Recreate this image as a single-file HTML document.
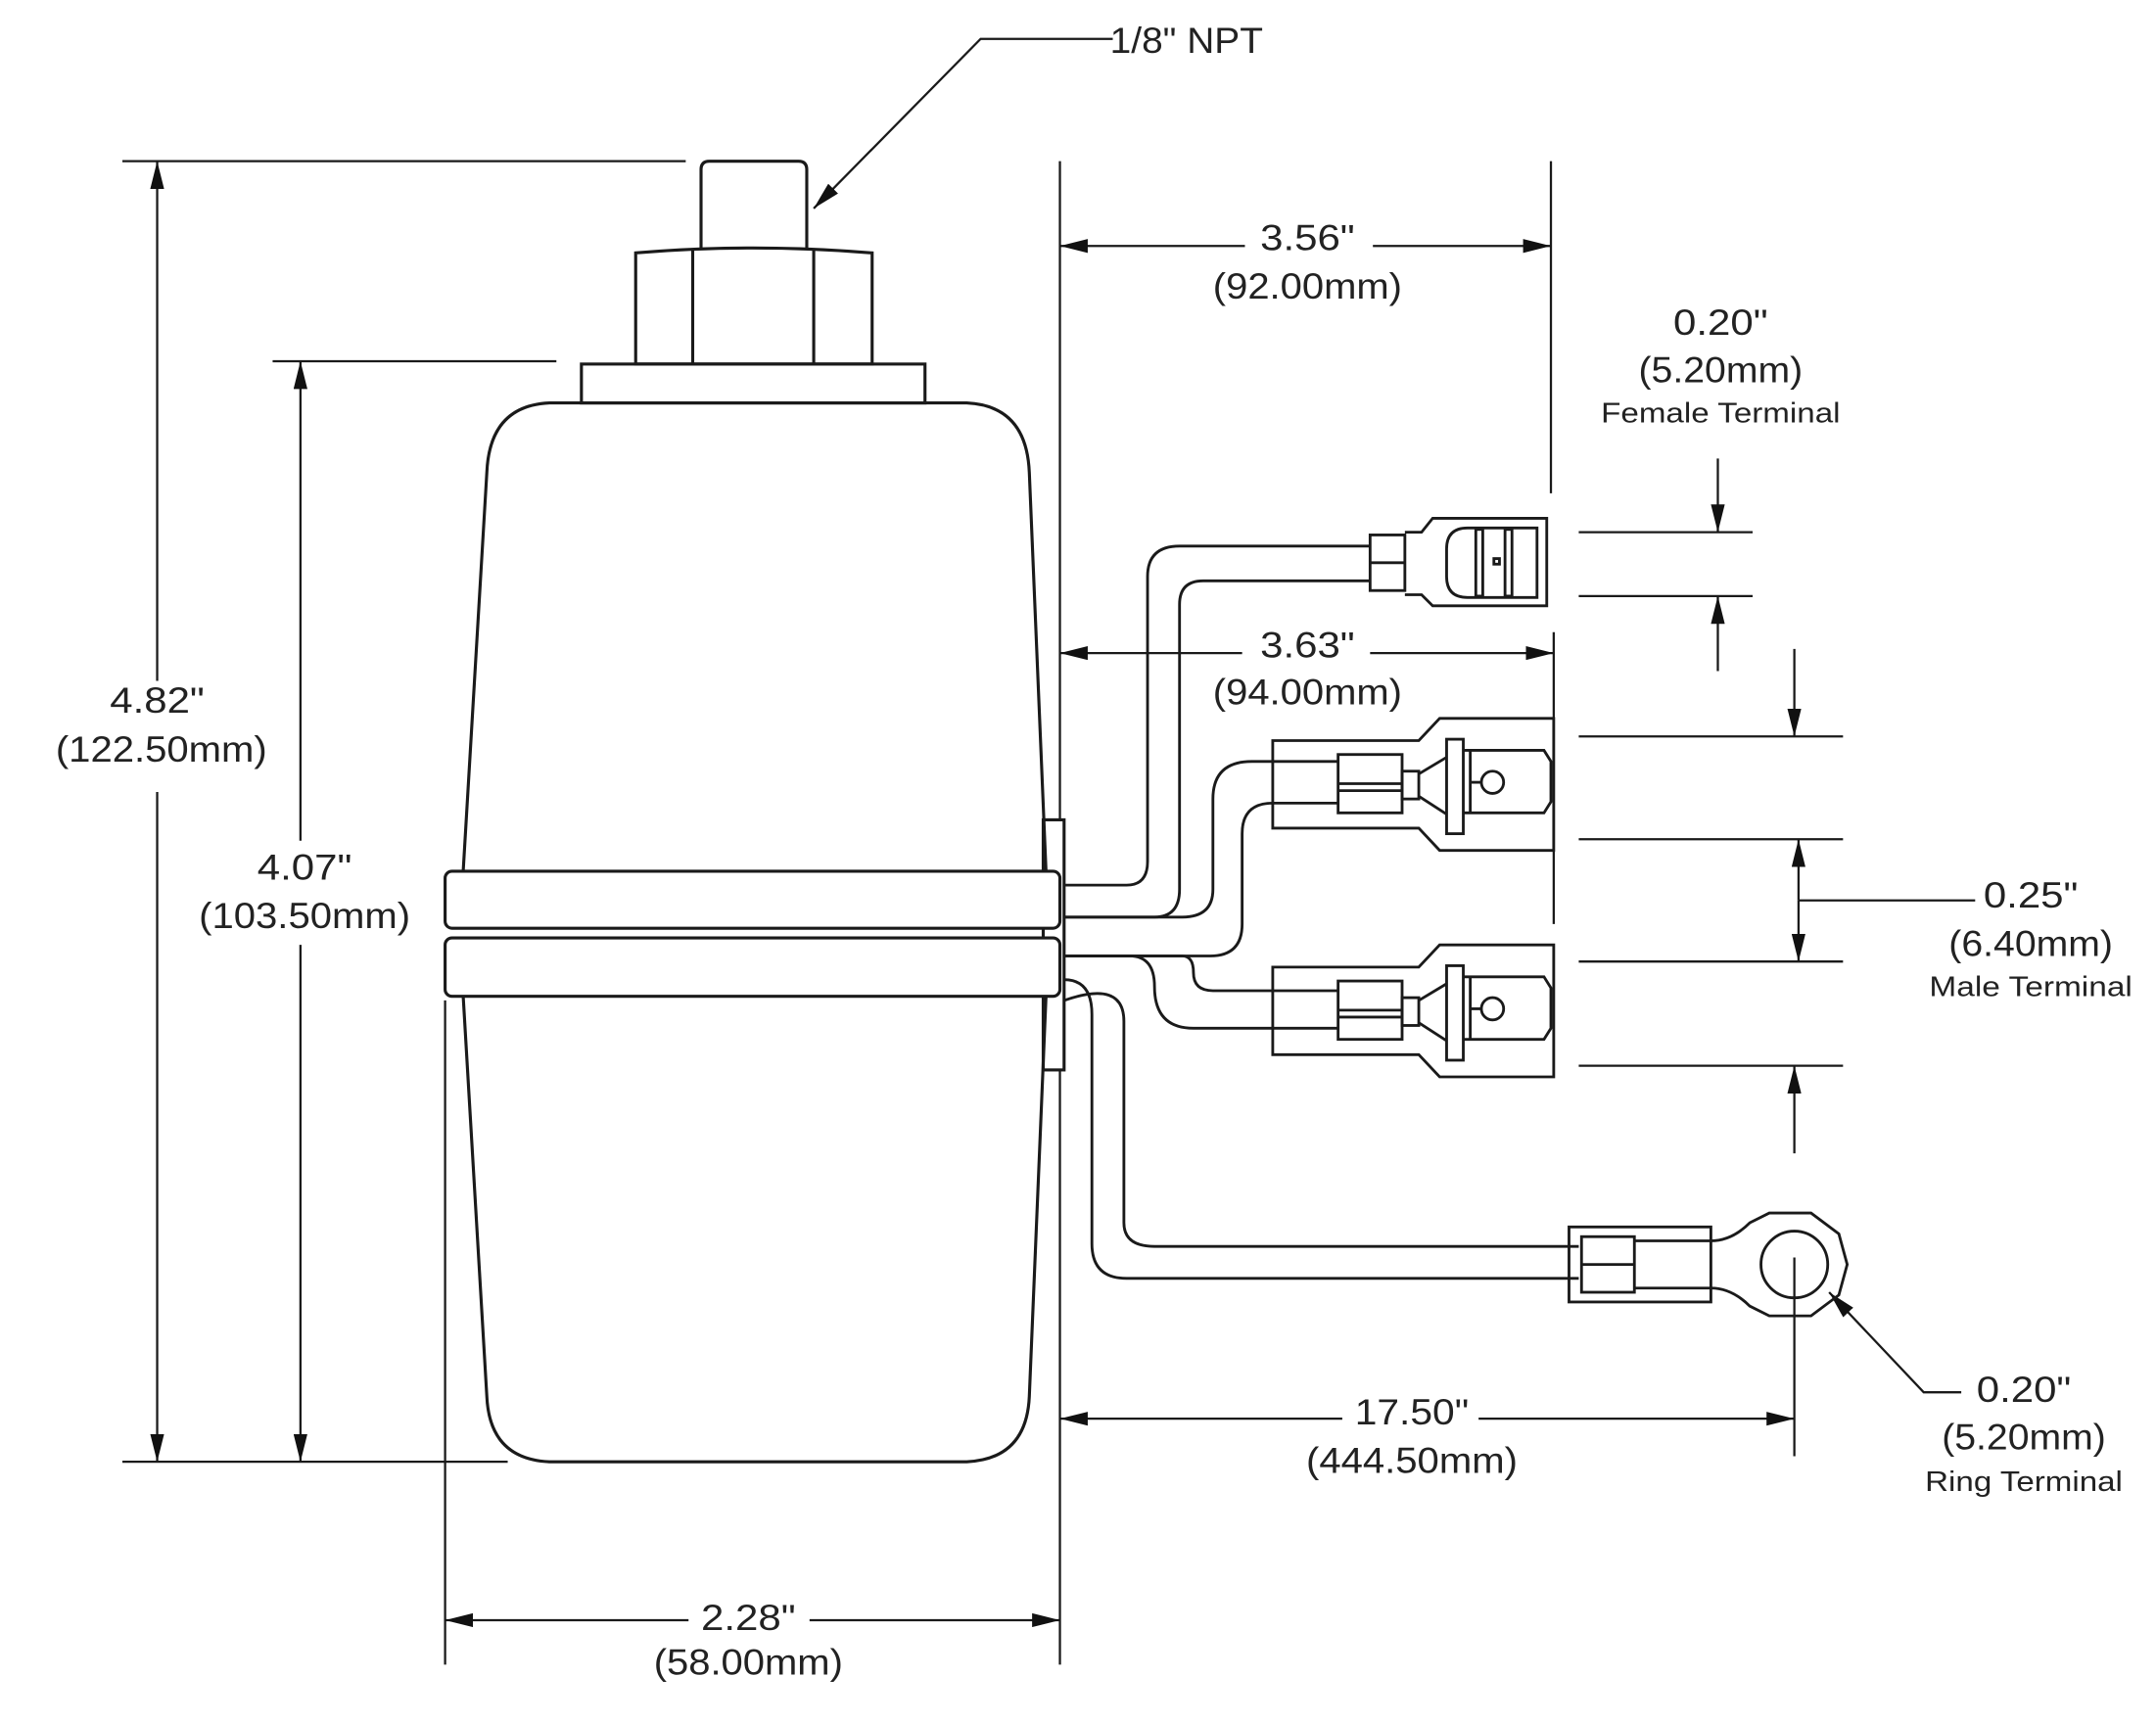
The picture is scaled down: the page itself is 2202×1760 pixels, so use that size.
<!DOCTYPE html>
<html><head><meta charset="utf-8"><style>html,body{margin:0;padding:0;background:#fff}svg{display:block}</style></head>
<body>
<svg width="2202" height="1760" viewBox="0 0 1550 1240" preserveAspectRatio="none" xmlns="http://www.w3.org/2000/svg">
<defs>
<marker id="a" viewBox="0 0 20 10" refX="20" refY="5" markerWidth="20" markerHeight="10" markerUnits="userSpaceOnUse" orient="auto"><path d="M0,0 L20,5 L0,10 z" fill="#111"/></marker>
</defs>
<g fill="none" stroke="#1a1a1a" stroke-width="2.2">
<!-- stem -->
<path d="M504,180 V122 Q504,116 510,116 H574 Q580,116 580,122 V180"/>
<!-- hex nut -->
<path d="M457,262 V182 Q540,175 627,182 V262 Z"/>
<line x1="498" y1="180" x2="498" y2="262"/><line x1="585" y1="180" x2="585" y2="262"/>
<!-- washer -->
<rect x="418" y="262" width="247" height="28"/>
<!-- upper body -->
<path d="M333,627 L350,340 Q352,292 395,290 H695 Q738,292 740,340 L752,627"/>
<!-- tab -->
<rect x="750" y="590" width="15" height="180"/>
<!-- band -->
<rect x="320" y="627" width="442" height="41" rx="5" fill="#fff"/>
<rect x="320" y="675" width="442" height="42" rx="5" fill="#fff"/>
<!-- lower body -->
<path d="M333,717 L350,1005 Q352,1050 395,1052 H695 Q738,1050 740,1005 L752,717"/>
</g>
<g fill="none" stroke="#1a1a1a" stroke-width="1.6">
<!-- dimension extension lines -->
<line x1="88" y1="116" x2="493" y2="116"/>
<line x1="88" y1="1052" x2="365" y2="1052"/>
<line x1="196" y1="260" x2="400" y2="260"/>
<line x1="762" y1="116" x2="762" y2="590"/>
<line x1="762" y1="770" x2="762" y2="1198"/>
<line x1="320" y1="720" x2="320" y2="1198"/>
<line x1="1115" y1="116" x2="1115" y2="355"/>
<line x1="1117" y1="455" x2="1117" y2="665"/>
<line x1="1290" y1="905" x2="1290" y2="1048"/>
<line x1="1135" y1="383" x2="1260" y2="383"/>
<line x1="1135" y1="429" x2="1260" y2="429"/>
<line x1="1135" y1="530" x2="1325" y2="530"/>
<line x1="1135" y1="604" x2="1325" y2="604"/>
<line x1="1135" y1="692" x2="1325" y2="692"/>
<line x1="1135" y1="767" x2="1325" y2="767"/>
<!-- dims with arrows -->
<line x1="113" y1="490" x2="113" y2="116" marker-end="url(#a)"/>
<line x1="113" y1="570" x2="113" y2="1052" marker-end="url(#a)"/>
<line x1="216" y1="605" x2="216" y2="260" marker-end="url(#a)"/>
<line x1="216" y1="680" x2="216" y2="1052" marker-end="url(#a)"/>
<line x1="495" y1="1166" x2="320" y2="1166" marker-end="url(#a)"/>
<line x1="582" y1="1166" x2="762" y2="1166" marker-end="url(#a)"/>
<line x1="895" y1="177" x2="762" y2="177" marker-end="url(#a)"/>
<line x1="987" y1="177" x2="1115" y2="177" marker-end="url(#a)"/>
<line x1="893" y1="470" x2="762" y2="470" marker-end="url(#a)"/>
<line x1="985" y1="470" x2="1117" y2="470" marker-end="url(#a)"/>
<line x1="965" y1="1021" x2="762" y2="1021" marker-end="url(#a)"/>
<line x1="1063" y1="1021" x2="1290" y2="1021" marker-end="url(#a)"/>
<path d="M800,28 H705 L585,150" marker-end="url(#a)"/>
<line x1="1235" y1="330" x2="1235" y2="383" marker-end="url(#a)"/>
<line x1="1235" y1="483" x2="1235" y2="429" marker-end="url(#a)"/>
<line x1="1290" y1="467" x2="1290" y2="530" marker-end="url(#a)"/>
<line x1="1293" y1="648" x2="1293" y2="604" marker-end="url(#a)"/>
<line x1="1293" y1="648" x2="1293" y2="692" marker-end="url(#a)"/>
<line x1="1293" y1="648" x2="1420" y2="648"/>
<line x1="1290" y1="830" x2="1290" y2="767" marker-end="url(#a)"/>
<path d="M1410,1002 H1383 L1315,930" marker-end="url(#a)"/>
</g>
<g fill="none" stroke="#1a1a1a" stroke-width="2">
<!-- wire 1 female -->
<path d="M765,637 H810 Q825,637 825,620 V415 Q825,393 848,393 H985"/>
<path d="M765,660 H830 Q848,660 848,640 V435 Q848,418 865,418 H985"/>
<rect x="985" y="385" width="25" height="40"/><line x1="985" y1="405" x2="1010" y2="405"/>
<path d="M1010,383 H1022 L1030,373 H1112 V436 H1030 L1022,428 H1010"/>
<path d="M1105,380 H1055 Q1040,380 1040,395 V415 Q1040,430 1055,430 H1105 Z"/>
<rect x="1061" y="381" width="5" height="48"/><rect x="1082" y="381" width="5" height="48"/>
<rect x="1074" y="402" width="4" height="4"/>
<!-- wire 2 male top -->
<path d="M765,660 H850 Q872,660 872,640 V575 Q872,548 900,548 H962"/>
<path d="M765,688 H870 Q893,688 893,665 V600 Q893,578 915,578 H962"/>
<!-- wire 3 male bottom -->
<path d="M765,688 H812 Q830,688 830,710 Q830,740 858,740 H962"/>
<path d="M765,688 H850 Q858,688 858,700 Q858,713 872,713 H962"/>
<!-- wire 4 ring -->
<path d="M765,705 Q785,705 785,730 V895 Q785,920 810,920 H1135"/>
<path d="M765,720 Q808,705 808,735 V880 Q808,897 830,897 H1135"/>
<!-- male connectors -->
<g id="mc">
<path d="M915,533 H1020 L1035,517 H1117 V612 H1035 L1020,596 H915 Z"/>
<rect x="962" y="543" width="46" height="42"/>
<line x1="962" y1="564" x2="1008" y2="564"/><line x1="962" y1="569" x2="1008" y2="569"/>
<rect x="1008" y="555" width="12" height="20"/>
<line x1="1020" y1="557" x2="1040" y2="545"/><line x1="1020" y1="573" x2="1040" y2="586"/>
<rect x="1040" y="532" width="12" height="68"/>
<path d="M1052,540 H1110 L1115,548 V577 L1110,585 H1052"/>
<line x1="1057" y1="540" x2="1057" y2="585"/>
<circle cx="1073" cy="563" r="8"/>
<line x1="1057" y1="563" x2="1065" y2="563"/>
</g>
<use href="#mc" transform="translate(0,163)"/>
<!-- ring connector -->
<rect x="1128" y="883" width="102" height="54"/>
<rect x="1137" y="890" width="38" height="40"/><line x1="1137" y1="910" x2="1175" y2="910"/>
<path d="M1175,893 H1230 Q1245,893 1258,880 L1272,873 H1302 L1322,888 L1328,910 L1322,932 L1302,947 H1272 L1258,940 Q1245,927 1230,927 H1175"/>
<circle cx="1290" cy="910" r="24"/>
</g>
<g font-family="'Liberation Sans', sans-serif" fill="#222" text-anchor="middle" font-size="26">
<text x="853" y="38" textLength="110" lengthAdjust="spacingAndGlyphs">1/8" NPT</text>
<text x="940" y="180" textLength="68" lengthAdjust="spacingAndGlyphs">3.56"</text>
<text x="940" y="215" textLength="136" lengthAdjust="spacingAndGlyphs">(92.00mm)</text>
<text x="1237" y="241" textLength="68" lengthAdjust="spacingAndGlyphs">0.20"</text>
<text x="1237" y="275" textLength="118" lengthAdjust="spacingAndGlyphs">(5.20mm)</text>
<text x="1237" y="304" font-size="20" textLength="172" lengthAdjust="spacingAndGlyphs">Female Terminal</text>
<text x="940" y="473" textLength="68" lengthAdjust="spacingAndGlyphs">3.63"</text>
<text x="940" y="507" textLength="136" lengthAdjust="spacingAndGlyphs">(94.00mm)</text>
<text x="1460" y="653" textLength="68" lengthAdjust="spacingAndGlyphs">0.25"</text>
<text x="1460" y="688" textLength="118" lengthAdjust="spacingAndGlyphs">(6.40mm)</text>
<text x="1460" y="717" font-size="20" textLength="146" lengthAdjust="spacingAndGlyphs">Male Terminal</text>
<text x="1455" y="1009" textLength="68" lengthAdjust="spacingAndGlyphs">0.20"</text>
<text x="1455" y="1043" textLength="118" lengthAdjust="spacingAndGlyphs">(5.20mm)</text>
<text x="1455" y="1073" font-size="20" textLength="142" lengthAdjust="spacingAndGlyphs">Ring Terminal</text>
<text x="1015" y="1025" textLength="82" lengthAdjust="spacingAndGlyphs">17.50"</text>
<text x="1015" y="1060" textLength="152" lengthAdjust="spacingAndGlyphs">(444.50mm)</text>
<text x="113" y="513" textLength="68" lengthAdjust="spacingAndGlyphs">4.82"</text>
<text x="116" y="548" textLength="152" lengthAdjust="spacingAndGlyphs">(122.50mm)</text>
<text x="219" y="633" textLength="68" lengthAdjust="spacingAndGlyphs">4.07"</text>
<text x="219" y="668" textLength="152" lengthAdjust="spacingAndGlyphs">(103.50mm)</text>
<text x="538" y="1173" textLength="68" lengthAdjust="spacingAndGlyphs">2.28"</text>
<text x="538" y="1205" textLength="136" lengthAdjust="spacingAndGlyphs">(58.00mm)</text>
</g>
</svg>
</body></html>
